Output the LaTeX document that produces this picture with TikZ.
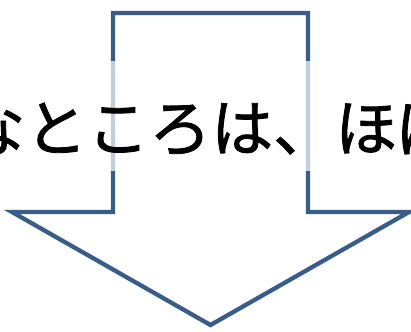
\documentclass[tikz,border=0pt]{standalone}
\usepackage{fontspec}
\newfontfamily\jpfont[FakeBold=1.3]{Noto Sans CJK JP}
\usetikzlibrary{calc,positioning}
\definecolor{arrowblue}{HTML}{385D8A}

\begin{document}
\begin{tikzpicture}[x=1pt, y=1pt, line join=miter,
	outline/.style={draw=arrowblue, line width=4.3pt},
	veil/.style={fill=white, fill opacity=0.7, inner sep=0pt, minimum width=430pt, minimum height=110pt}]
	\useasboundingbox (0,0) rectangle (411,331);
	\clip (0,0) rectangle (411,331);
	% block arrow pointing down
	\draw[outline] (113,318) -- (308,318) -- (308,119) -- (409,119) -- (210.5,6) -- (12,119) -- (113,119) -- cycle;
	% text box over the shaft
	\node[veil] (band) at (205.5,215) {};
	\node[anchor=base west, inner sep=0pt, font=\jpfont\fontsize{62}{70}\selectfont] (phrase) at (-37,180) {なところは、ほぼ};
\end{tikzpicture}
\end{document}
